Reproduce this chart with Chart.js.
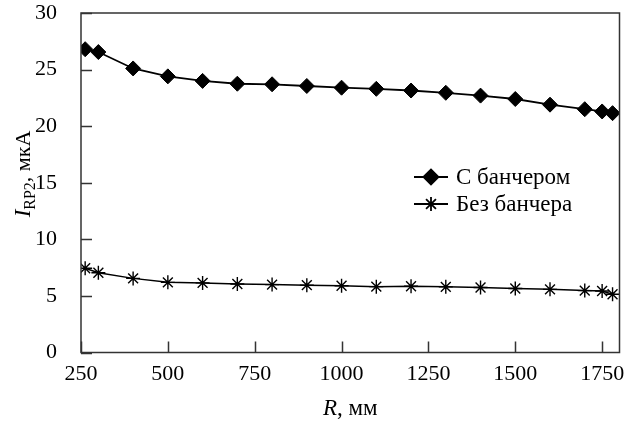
<!DOCTYPE html>
<html>
<head>
<meta charset="utf-8">
<script src="https://cdn.jsdelivr.net/npm/chart.js@4.4.1/dist/chart.umd.min.js"></script>
<style>
  html, body { margin: 0; padding: 0; background: #fff; }
  #wrap { width: 628px; height: 422px; position: relative; }
</style>
</head>
<body>
<div id="wrap"><canvas id="c" width="628" height="422"></canvas></div>
<script>
// ---- data ----
const radiusMm = [262, 300, 400, 500, 600, 700, 800, 900, 1000, 1100, 1200, 1300, 1400, 1500, 1600, 1700, 1750, 1780];
const withBuncher = [26.8, 26.55, 25.1, 24.4, 24.0, 23.75, 23.7, 23.55, 23.4, 23.3, 23.15, 22.95, 22.7, 22.4, 21.9, 21.5, 21.3, 21.15];
const withoutBuncher = [7.45, 7.05, 6.55, 6.2, 6.15, 6.05, 6.0, 5.95, 5.9, 5.82, 5.86, 5.8, 5.74, 5.65, 5.58, 5.47, 5.43, 5.15];
const xTicks = [250, 500, 750, 1000, 1250, 1500, 1750];
const yTicks = [0, 5, 10, 15, 20, 25, 30];
const seriesNames = ['С банчером', 'Без банчера'];
const xTitle = ['R', ', мм'];
const yTitle = ['I', 'RP2', ', мкА'];

const FONT = "'Liberation Serif', 'DejaVu Serif', serif";
const toXY = (xs, ys) => xs.map((x, i) => ({ x: x, y: ys[i] }));

const decor = {
  id: 'decor',
  afterDraw(chart) {
    const ctx = chart.ctx;
    const a = chart.chartArea;
    const xs = chart.scales.x, ys = chart.scales.y;
    ctx.save();
    // frame
    ctx.strokeStyle = '#333';
    ctx.lineWidth = 1.5;
    ctx.strokeRect(a.left, a.top, a.right - a.left, a.bottom - a.top);
    // inward ticks
    ctx.beginPath();
    xTicks.forEach(v => {
      const p = Math.round(xs.getPixelForValue(v)) + 0.5;
      ctx.moveTo(p, a.bottom); ctx.lineTo(p, a.bottom - 11);
    });
    yTicks.forEach(v => {
      const p = Math.round(ys.getPixelForValue(v)) + 0.5;
      ctx.moveTo(a.left, p); ctx.lineTo(a.left + 11, p);
    });
    ctx.stroke();

    ctx.fillStyle = '#000';
    ctx.textBaseline = 'alphabetic';
    // x title
    {
      const f1 = 'italic 23px ' + FONT, f2 = '23px ' + FONT;
      ctx.font = f1; const w1 = ctx.measureText(xTitle[0]).width;
      ctx.font = f2; const w2 = ctx.measureText(xTitle[1]).width;
      const cx = (a.left + a.right) / 2;
      let x = cx - (w1 + w2) / 2;
      const y = 415;
      ctx.font = f1; ctx.textAlign = 'left'; ctx.fillText(xTitle[0], x, y);
      ctx.font = f2; ctx.fillText(xTitle[1], x + w1, y);
    }
    // y title
    {
      ctx.save();
      ctx.translate(30, 174);
      ctx.rotate(-Math.PI / 2);
      const f1 = 'italic 23px ' + FONT, fs = '16px ' + FONT, f2 = '22px ' + FONT;
      ctx.font = f1; const w1 = ctx.measureText(yTitle[0]).width;
      ctx.font = fs; const w2 = ctx.measureText(yTitle[1]).width;
      ctx.font = f2; const w3 = ctx.measureText(yTitle[2]).width;
      let x = -(w1 + w2 + w3) / 2;
      ctx.textAlign = 'left';
      ctx.font = f1; ctx.fillText(yTitle[0], x, 0); x += w1;
      ctx.font = fs; ctx.fillText(yTitle[1], x, 5); x += w2;
      ctx.font = f2; ctx.fillText(yTitle[2], x, 0);
      ctx.restore();
    }
    // legend
    const rows = [177, 204];
    chart.data.datasets.forEach((ds, i) => {
      const y = rows[i];
      ctx.strokeStyle = '#000';
      ctx.lineWidth = 1.8;
      ctx.beginPath(); ctx.moveTo(414, y); ctx.lineTo(448, y); ctx.stroke();
      Chart.helpers.drawPoint(ctx, {
        pointStyle: ds.pointStyle, radius: ds.pointRadius, borderWidth: ds.pointBorderWidth || 1.5, rotation: 0
      }, 431, y);
      ctx.fillStyle = '#000';
      ctx.font = '23px ' + FONT;
      ctx.textAlign = 'left';
      ctx.textBaseline = 'middle';
      ctx.fillText(seriesNames[i], 456, y + 1);
    });
    ctx.restore();
  }
};

new Chart(document.getElementById('c'), {
  type: 'line',
  data: {
    datasets: [
      {
        label: seriesNames[0],
        data: toXY(radiusMm, withBuncher),
        borderColor: '#000', backgroundColor: '#000', borderWidth: 1.8,
        pointStyle: 'rectRot', pointRadius: 7.5, pointBorderWidth: 1,
        pointBackgroundColor: '#000', pointBorderColor: '#000', tension: 0
      },
      {
        label: seriesNames[1],
        data: toXY(radiusMm, withoutBuncher),
        borderColor: '#000', backgroundColor: '#000', borderWidth: 1.5,
        pointStyle: 'star', pointRadius: 7, pointBorderWidth: 1.4,
        pointBackgroundColor: '#000', pointBorderColor: '#000', tension: 0
      }
    ]
  },
  options: {
    responsive: false,
    animation: false,
    layout: { padding: { left: 0, right: 6, top: 13, bottom: 0 } },
    plugins: { legend: { display: false }, tooltip: { enabled: false } },
    scales: {
      x: {
        type: 'linear', min: 250, max: 1800,
        afterBuildTicks: s => { s.ticks = xTicks.map(v => ({ value: v })); },
        afterFit: s => { s.height = 69.5; s.paddingLeft = 0; s.paddingRight = 0; },
        grid: { display: false, drawTicks: false },
        border: { display: false },
        ticks: { color: '#000', font: { family: FONT, size: 22 }, padding: 9, maxRotation: 0, autoSkip: false,
                 callback: v => String(v) }
      },
      y: {
        min: 0, max: 30,
        afterBuildTicks: s => { s.ticks = yTicks.map(v => ({ value: v })); },
        afterFit: s => { s.width = 81; s.paddingTop = 0; s.paddingBottom = 0; },
        grid: { display: false, drawTicks: false },
        border: { display: false },
        ticks: { color: '#000', font: { family: FONT, size: 22 }, padding: 24, callback: v => String(v) }
      }
    }
  },
  plugins: [decor]
});
</script>
</body>
</html>
